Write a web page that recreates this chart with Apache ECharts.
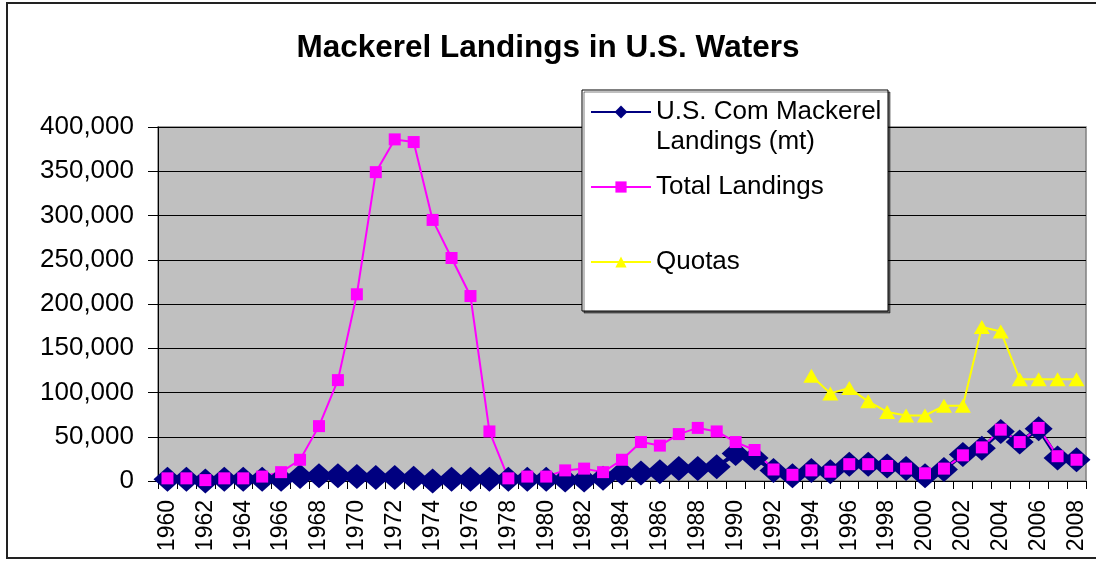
<!DOCTYPE html>
<html>
<head>
<meta charset="utf-8">
<script src="https://cdn.jsdelivr.net/npm/echarts@6/dist/echarts.min.js"></script>
<style>
  html, body { margin: 0; padding: 0; background: #fff; }
  #chart { width: 1096px; height: 561px; }
</style>
</head>
<body>
<div id="chart"></div>
<script>
const years = []
for (let y = 1960; y <= 2008; y++) years.push(String(y))

// metric tons
const usComLandings = [
  2000, 2000, 0, 2000, 2000, 2000, 2000, 5000, 6000, 6000,
  5000, 4000, 4000, 3000, 0, 2000, 2000, 2000, 2000, 2000,
  2000, 1000, 1000, 3000, 9000, 9000, 10500, 14000, 14000, 16000,
  31000, 26000, 12000, 6000, 12000, 10500, 19000, 19000, 17000, 14000,
  6000, 13000, 30000, 37000, 56000, 44000, 59000, 26000, 24000
]
const totalLandings = [
  3000, 3000, 1000, 3000, 3000, 5000, 10000, 24000, 62000, 114000,
  211000, 349000, 386000, 383000, 295000, 252000, 209000, 56000, 3000, 5000,
  5000, 12000, 14000, 10000, 24000, 44000, 40000, 53000, 60000, 56000,
  44000, 35000, 13000, 7000, 12000, 10500, 19000, 19000, 17000, 14000,
  8700, 14000, 29000, 38000, 58000, 44000, 60000, 28000, 24000
]
const quotaYears = ["1994", "1995", "1996", "1997", "1998", "1999", "2000", "2001",
  "2002", "2003", "2004", "2005", "2006", "2007", "2008"]
const quotaValues = [119000, 99000, 105000, 90000, 78000, 74000, 74000, 85000,
  85000, 174000, 169000, 115000, 115000, 115000, 115000]
const yTicks = [0, 50000, 100000, 150000, 200000, 250000, 300000, 350000, 400000]

const quotas = years.map(y => {
    const i = quotaYears.indexOf(y)
    return i < 0 ? null : quotaValues[i]
})

const font = "'Liberation Sans', Arial, sans-serif"
const names = ["U.S. Com Mackerel Landings (mt)", "Total Landings", "Quotas"]

const myChart = echarts.init(document.getElementById("chart"))
myChart.setOption({
    animation: false,
    textStyle: { fontFamily: font },
    title: {
        text: "Mackerel Landings in U.S. Waters",
        left: "center",
        top: 27,
        textStyle: { fontSize: 31.5, fontWeight: "bold", color: "#000", fontFamily: font }
    },
    graphic: [
        {
            type: "rect",
            z: 0,
            shape: { x: 7, y: 3, width: 1200, height: 555 },
            style: { fill: null, stroke: "#222", lineWidth: 2 }
        },
        {
            type: "rect",
            z: 10,
            shape: { x: 582, y: 90, width: 306, height: 221 },
            style: {
                fill: "#fff", stroke: "#000", lineWidth: 1,
                shadowColor: "rgba(0,0,0,0.5)", shadowOffsetX: 2, shadowOffsetY: 2
            }
        }
    ],
    legend: [
        {
            data: [names[0]],
            left: 590, top: 67, padding: 0, z: 20,
            itemWidth: 60, itemHeight: 16, selectedMode: false,
            // blank first line keeps the icon level with the first text line
            formatter: () => " \nU.S. Com Mackerel\nLandings (mt)",
            textStyle: { fontSize: 26, lineHeight: 30, color: "#000", fontFamily: font }
        },
        {
            data: [names[1]],
            left: 590, top: 172, padding: 0, z: 20,
            itemWidth: 60, itemHeight: 14, selectedMode: false,
            textStyle: { fontSize: 26, lineHeight: 30, color: "#000", fontFamily: font }
        },
        {
            data: [names[2]],
            left: 590, top: 247, padding: 0, z: 20,
            itemWidth: 60, itemHeight: 14, selectedMode: false,
            textStyle: { fontSize: 26, lineHeight: 30, color: "#000", fontFamily: font }
        }
    ],
    grid: {
        left: 158,
        right: 10,
        top: 127,
        bottom: 80,
        show: true,
        backgroundColor: "#C0C0C0",
        borderColor: "#808080",
        borderWidth: 1.5
    },
    xAxis: {
        type: "category",
        data: years,
        boundaryGap: true,
        axisLine: { lineStyle: { color: "#000", width: 1 } },
        axisTick: { show: true, interval: 0, length: 8, lineStyle: { color: "#000" } },
        axisLabel: {
            interval: 1,
            rotate: 90,
            margin: 19,
            fontSize: 23,
            color: "#000",
            fontFamily: font
        },
        splitLine: { show: false }
    },
    yAxis: {
        type: "value",
        min: yTicks[0],
        max: yTicks[yTicks.length - 1],
        interval: yTicks[1] - yTicks[0],
        axisLine: { show: true, lineStyle: { color: "#000", width: 1 } },
        axisTick: { show: true, length: 10, lineStyle: { color: "#000" } },
        axisLabel: {
            fontSize: 26,
            color: "#000",
            margin: 24,
            fontFamily: font,
            formatter: v => v.toLocaleString("en-US")
        },
        splitLine: { show: true, lineStyle: { color: "#000", width: 1 } }
    },
    series: [
        {
            name: names[0],
            type: "line",
            data: usComLandings,
            symbol: "diamond",
            symbolSize: [28, 25],
            showAllSymbol: true,
            lineStyle: { color: "#000080", width: 4 },
            itemStyle: { color: "#000080" }
        },
        {
            name: names[1],
            type: "line",
            data: totalLandings,
            symbol: "rect",
            symbolSize: 12,
            showAllSymbol: true,
            lineStyle: { color: "#FF00FF", width: 2 },
            itemStyle: { color: "#FF00FF" }
        },
        {
            name: names[2],
            type: "line",
            data: quotas,
            symbol: "triangle",
            symbolSize: [16, 14],
            showAllSymbol: true,
            connectNulls: false,
            lineStyle: { color: "#FFFF00", width: 2 },
            itemStyle: { color: "#FFFF00" }
        }
    ]
})
</script>
</body>
</html>
